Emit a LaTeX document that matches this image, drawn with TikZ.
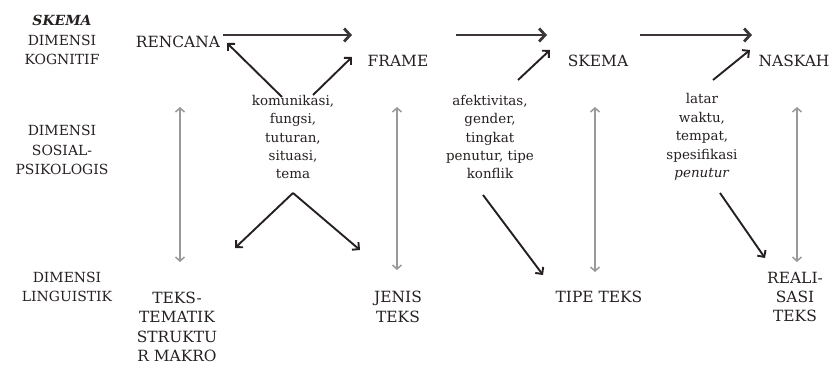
\documentclass[tikz,border=0pt]{standalone}
\usepackage{fontspec}
\setmainfont{DejaVu Serif}
\usetikzlibrary{arrows.meta,positioning}
\definecolor{ink}{HTML}{262020}
\definecolor{pale}{HTML}{9C9898}

\begin{document}
\begin{tikzpicture}[x=1bp,y=-1bp,
  every node/.style={align=center,inner sep=0pt,text=ink},%
  lbl/.style={font=\fontsize{14}{19.5}\selectfont},%
  k/.style={font=\fontsize{15.5}{19.5}\selectfont},%
  s/.style={font=\fontsize{13.5}{18.5}\selectfont},%
  e/.style={-{Straight Barb[length=6pt,width=13pt]},line width=2.8bp,draw=ink!90},%
  d/.style={-{Straight Barb[length=5pt,width=10pt]},line width=1.9bp,draw=ink},%
  v/.style={{Straight Barb[length=4pt,width=9pt]}-{Straight Barb[length=4pt,width=9pt]},line width=1.5bp,draw=pale},%
  ]
  \useasboundingbox (0,0) rectangle (835,368);

  \node (kognitif) [lbl] at (62,40) {\textbf{\textit{SKEMA}}\\DIMENSI\\KOGNITIF};
  \node (sosial) [lbl] at (62,150) {DIMENSI\\SOSIAL-\\PSIKOLOGIS};
  \node (linguistik) [lbl] at (67,287) {DIMENSI\\LINGUISTIK};

  \node (rencana) [k] at (178,42) {RENCANA};
  \node (frame) [k] at (398,61) {FRAME};
  \node (skema) [k] at (598,61) {SKEMA};
  \node (naskah) [k] at (794,61) {NASKAH};

  \node (komunikasi) [s] at (293,137) {komunikasi,\\fungsi,\\tuturan,\\situasi,\\tema};
  \node (afektivitas) [s] at (490,137) {afektivitas,\\gender,\\tingkat\\penutur, tipe\\konflik};
  \node (latar) [s] at (702,137) {latar\\waktu,\\tempat,\\spesifikasi\\\textit{penutur}};

  \node (tematik) [k] at (177,327) {TEKS-\\TEMATIK\\STRUKTU\\R MAKRO};
  \node (jenis) [k] at (398,307) {JENIS\\TEKS};
  \node (tipe) [k] at (599,297) {TIPE TEKS};
  \node (realisasi) [k] at (795,297) {REALI-\\SASI\\TEKS};

  \draw [e] ([shift={(45,-7)}]rencana.center) -- ([shift={(-46,-26)}]frame.center);
  \draw [e] ([shift={(58,-26)}]frame.center) -- ([shift={(-51,-26)}]skema.center);
  \draw [e] ([shift={(42,-26)}]skema.center) -- ([shift={(-42,-26)}]naskah.center);

  \draw [d] ([shift={(-11,-40)}]komunikasi.center) -- ([shift={(49,1)}]rencana.center);
  \draw [d] ([shift={(20,-42)}]komunikasi.center) -- ([shift={(-46,-4)}]frame.center);
  \draw [d] ([shift={(0,56)}]komunikasi.center) -- ([shift={(58,-79)}]tematik.center);
  \draw [d] ([shift={(0,56)}]komunikasi.center) -- ([shift={(-38,-57)}]jenis.center);
  \draw [d] ([shift={(28,-57)}]afektivitas.center) -- ([shift={(-48,-11)}]skema.center);
  \draw [d] ([shift={(-7,58)}]afektivitas.center) -- ([shift={(-56,-22)}]tipe.center);
  \draw [d] ([shift={(11,-57)}]latar.center) -- ([shift={(-44,-11)}]naskah.center);
  \draw [d] ([shift={(18,56)}]latar.center) -- ([shift={(-30,-39)}]realisasi.center);

  \draw [v] ([shift={(2,65)}]rencana.center) -- ([shift={(3,-65)}]tematik.center);
  \draw [v] ([shift={(-1,46)}]frame.center) -- ([shift={(-1,-37)}]jenis.center);
  \draw [v] ([shift={(-3,46)}]skema.center) -- ([shift={(-4,-25)}]tipe.center);
  \draw [v] ([shift={(3,46)}]naskah.center) -- ([shift={(2,-35)}]realisasi.center);
\end{tikzpicture}
\end{document}
